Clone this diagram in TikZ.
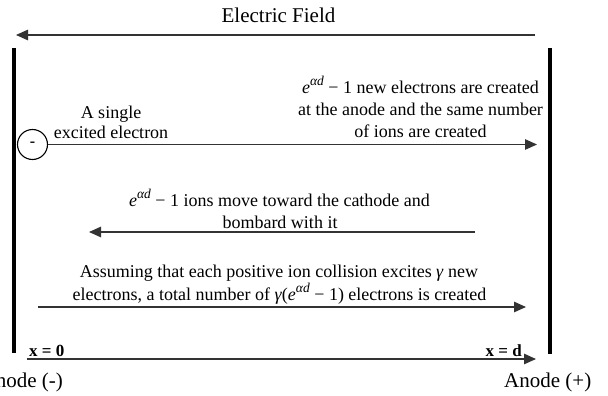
\documentclass[tikz,border=0pt]{standalone}
\usepackage{fontspec}
\setmainfont{Liberation Serif}
\usetikzlibrary{arrows.meta}
\newcommand\myead{\textit{e}\raisebox{0.42em}{\fontsize{13.5}{14}\selectfont\textit{αd}}\hspace{0.25em}−\hspace{0.25em}1}
\begin{document}
\begin{tikzpicture}[x=1pt,y=-1pt,
  arr/.style={draw=black!80, line width=1.2pt, -{Triangle[length=12pt,width=10.5pt]}},
  electrode/.style={line width=3.2pt, draw=black},
  body/.style={font=\fontsize{18}{22}\selectfont, inner sep=0pt, anchor=base},
  big/.style={font=\fontsize{21}{25}\selectfont, inner sep=0pt, anchor=base},
  posl/.style={font=\bfseries\fontsize{17}{20}\selectfont, inner sep=0pt},
  electron/.style={circle, draw=black, line width=1.1pt, minimum size=30pt, inner sep=0pt, fill=white, font=\bfseries\fontsize{16}{18}\selectfont}]
\useasboundingbox (0,0) rectangle (608,396);
\clip (0,0) rectangle (608,396);
% title and field arrow
\node[big] (title) at (278.5,23) {Electric Field};
\coordinate (efR) at (535,35);
\coordinate (efL) at (16,35);
\draw[arr] (efR) -- (efL);
% electrodes
\coordinate (cT) at (14,48);
\coordinate (cB) at (14,353);
\coordinate (aT) at (550,48);
\coordinate (aB) at (550,354);
\draw[electrode] (cT) -- (cB);
\draw[electrode] (aT) -- (aB);
% electron and first arrow
\node[electron] (el) at (32.5,144.5) {-};
\coordinate (a1) at (537,144.5);
\draw[arr] (el.east) -- (a1);
\node[body] (s1) at (111,118) {A single};
\node[body] (s2) at (111,138) {excited electron};
\node[body] (r1) at (420.5,93) {\myead{} new electrons are created};
\node[body] (r2) at (420.5,115) {at the anode and the same number};
\node[body] (r3) at (420.5,137) {of ions are created};
% ions arrow
\node[body] (i1) at (279.5,206) {\myead{} ions move toward the cathode and};
\node[body] (i2) at (280,228) {bombard with it};
\coordinate (a2s) at (475,232);
\coordinate (a2e) at (89,232);
\draw[arr] (a2s) -- (a2e);
% secondary electrons
\node[body] (g1) at (279,277) {Assuming that each positive ion collision excites \textit{γ} new};
\node[body] (g2) at (279.5,300) {electrons, a total number of \textit{γ}(\myead) electrons is created};
\coordinate (a3s) at (38,307);
\coordinate (a3e) at (526,307);
\draw[arr] (a3s) -- (a3e);
% axis
\coordinate (x0) at (27,359);
\coordinate (xd) at (536,359);
\draw[arr] (x0) -- (xd);
\node[posl, anchor=base west] (lx0) at (29,356) {x = 0};
\node[posl, anchor=base east] (lxd) at (522,356) {x = d};
\node[big, anchor=base east] (cath) at (63,387) {Cathode (-)};
\node[big, anchor=base west] (anod) at (504,387) {Anode (+)};
\end{tikzpicture}
\end{document}
